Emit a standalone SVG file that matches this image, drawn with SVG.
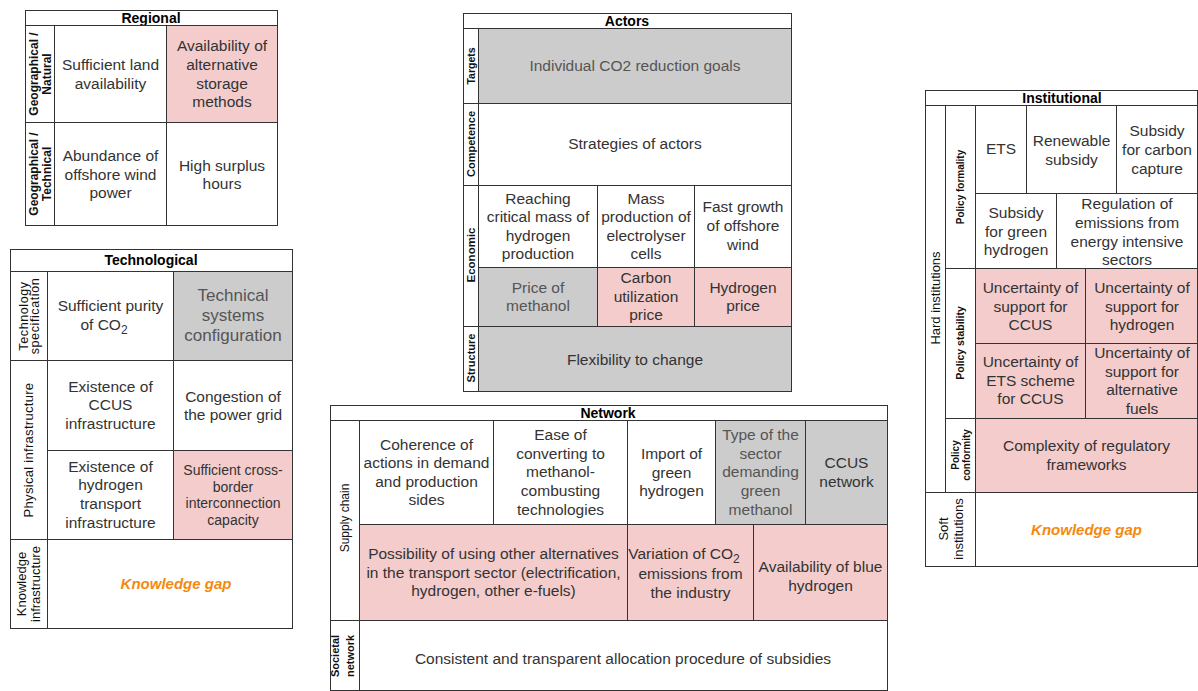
<svg xmlns="http://www.w3.org/2000/svg" width="1198" height="691" viewBox="0 0 1198 691">
<style>
text{font-family:"Liberation Sans",Arial,sans-serif;}
rect{stroke:#333;stroke-width:1;fill:#fff;}
rect.pk{fill:#f4cccc;}
rect.gy{fill:#cccccc;}
.c{font-size:15.5px;fill:#333;text-anchor:middle;}
.gt{fill:#555;}
.t{font-size:14px;font-weight:bold;fill:#000;text-anchor:middle;}
.lb{font-size:12px;font-weight:bold;fill:#111;text-anchor:middle;}
.lr{font-size:12.5px;fill:#111;text-anchor:middle;}
.ls{font-size:10.5px;font-weight:bold;fill:#111;text-anchor:middle;}
.kg{font-size:15px;font-weight:bold;font-style:italic;fill:#f5890f;text-anchor:middle;}
</style>
<rect x="0" y="0" width="1198" height="691" style="fill:#fff;stroke:none"/>

<g id="regional">
<rect x="25.5" y="10.5" width="252" height="15"/>
<text class="t" x="151" y="23">Regional</text>
<g id="reg-label-natural"><rect x="25.5" y="25.5" width="29" height="97"/>
<text class="lb" transform="translate(39.5,74) rotate(-90)"><tspan x="0" y="-2">Geographical /</tspan><tspan x="0" y="11">Natural</tspan></text></g>
<g id="reg-label-technical"><rect x="25.5" y="122.5" width="29" height="103"/>
<text class="lb" transform="translate(39.5,174) rotate(-90)"><tspan x="0" y="-2">Geographical /</tspan><tspan x="0" y="11">Technical</tspan></text></g>
<g id="reg-land"><rect x="54.5" y="25.5" width="112" height="97"/>
<text class="c"><tspan x="110.5" y="70">Sufficient land</tspan><tspan x="110.5" y="89">availability</tspan></text></g>
<g id="reg-storage"><rect class="pk" x="166.5" y="25.5" width="111" height="97"/>
<text class="c"><tspan x="222" y="51">Availability of</tspan><tspan x="222" y="70">alternative</tspan><tspan x="222" y="89">storage</tspan><tspan x="222" y="107">methods</tspan></text></g>
<g id="reg-wind"><rect x="54.5" y="122.5" width="112" height="103"/>
<text class="c"><tspan x="110.5" y="161">Abundance of</tspan><tspan x="110.5" y="180">offshore wind</tspan><tspan x="110.5" y="198">power</tspan></text></g>
<g id="reg-surplus"><rect x="166.5" y="122.5" width="111" height="103"/>
<text class="c"><tspan x="222" y="171">High surplus</tspan><tspan x="222" y="189">hours</tspan></text></g>
</g>

<g id="technological">
<rect x="10.5" y="249.5" width="282" height="22"/>
<text class="t" x="151" y="265">Technological</text>
<g id="tech-label-spec"><rect x="10.5" y="271.5" width="37" height="89"/>
<text class="lr" style="letter-spacing:0.6px" transform="translate(28.5,316) rotate(-90)"><tspan x="0" y="-1">Technology</tspan><tspan x="0" y="10">specification</tspan></text></g>
<g id="tech-label-phys"><rect x="10.5" y="360.5" width="37" height="179"/>
<text class="lr" style="font-size:13px;letter-spacing:0.3px" transform="translate(28.5,450) rotate(-90)"><tspan x="0" y="4.5">Physical infrastructure</tspan></text></g>
<g id="tech-label-know"><rect x="10.5" y="539.5" width="37" height="89"/>
<text class="lr" style="font-size:13px" transform="translate(28.5,584) rotate(-90)"><tspan x="0" y="-2.5">Knowledge</tspan><tspan x="0" y="11.5">infrastructure</tspan></text></g>
<g id="tech-purity"><rect x="47.5" y="271.5" width="126" height="89"/>
<text class="c"><tspan x="110.5" y="311">Sufficient purity</tspan><tspan x="104" y="330">of CO</tspan><tspan dy="4" style="font-size:12px">2</tspan></text></g>
<g id="tech-config"><rect class="gy" x="173.5" y="271.5" width="119" height="89"/>
<text class="c gt" style="font-size:17px"><tspan x="233" y="301">Technical</tspan><tspan x="233" y="321">systems</tspan><tspan x="233" y="341">configuration</tspan></text></g>
<g id="tech-ccus"><rect x="47.5" y="360.5" width="126" height="90"/>
<text class="c"><tspan x="110.5" y="392">Existence of</tspan><tspan x="110.5" y="410">CCUS</tspan><tspan x="110.5" y="429">infrastructure</tspan></text></g>
<g id="tech-grid"><rect x="173.5" y="360.5" width="119" height="90"/>
<text class="c"><tspan x="233" y="402">Congestion of</tspan><tspan x="233" y="420">the power grid</tspan></text></g>
<g id="tech-h2transport"><rect x="47.5" y="450.5" width="126" height="89"/>
<text class="c"><tspan x="110.5" y="472">Existence of</tspan><tspan x="110.5" y="490">hydrogen</tspan><tspan x="110.5" y="509">transport</tspan><tspan x="110.5" y="528">infrastructure</tspan></text></g>
<g id="tech-crossborder"><rect class="pk" x="173.5" y="450.5" width="119" height="89"/>
<text class="c" style="font-size:14px"><tspan x="233" y="475">Sufficient cross-</tspan><tspan x="233" y="491.5">border</tspan><tspan x="233" y="508">interconnection</tspan><tspan x="233" y="525">capacity</tspan></text></g>
<g id="tech-kgap"><rect x="47.5" y="539.5" width="245" height="89"/>
<text class="kg" x="176" y="589">Knowledge gap</text></g>
</g>

<g id="actors">
<rect x="463.5" y="13.5" width="328" height="15"/>
<text class="t" x="627" y="26">Actors</text>
<g id="act-label-targets"><rect x="463.5" y="28.5" width="15" height="75"/>
<text class="ls" transform="translate(471,66) rotate(-90)"><tspan x="0" y="4">Targets</tspan></text></g>
<g id="act-label-comp"><rect x="463.5" y="103.5" width="15" height="82"/>
<text class="ls" style="font-size:11px" transform="translate(471,144) rotate(-90)"><tspan x="0" y="4">Competence</tspan></text></g>
<g id="act-label-econ"><rect x="463.5" y="185.5" width="15" height="141"/>
<text class="ls" style="font-size:11.5px" transform="translate(471,255) rotate(-90)"><tspan x="0" y="4">Economic</tspan></text></g>
<g id="act-label-struct"><rect x="463.5" y="326.5" width="15" height="65"/>
<text class="ls" style="font-size:11px" transform="translate(471,358) rotate(-90)"><tspan x="0" y="4">Structure</tspan></text></g>
<g id="act-goals"><rect class="gy" x="478.5" y="28.5" width="313" height="75"/>
<text class="c gt" x="635" y="71">Individual CO2 reduction goals</text></g>
<g id="act-strategies"><rect x="478.5" y="103.5" width="313" height="82"/>
<text class="c" x="635" y="149">Strategies of actors</text></g>
<g id="act-criticalmass"><rect x="478.5" y="185.5" width="119" height="82"/>
<text class="c"><tspan x="538" y="204">Reaching</tspan><tspan x="538" y="222">critical mass of</tspan><tspan x="538" y="241">hydrogen</tspan><tspan x="538" y="259">production</tspan></text></g>
<g id="act-massprod"><rect x="597.5" y="185.5" width="97" height="82"/>
<text class="c"><tspan x="646" y="204">Mass</tspan><tspan x="646" y="222">production of</tspan><tspan x="646" y="241">electrolyser</tspan><tspan x="646" y="259">cells</tspan></text></g>
<g id="act-fastgrowth"><rect x="694.5" y="185.5" width="97" height="82"/>
<text class="c"><tspan x="743" y="212">Fast growth</tspan><tspan x="743" y="231">of offshore</tspan><tspan x="743" y="250">wind</tspan></text></g>
<g id="act-methanolprice"><rect class="gy" x="478.5" y="267.5" width="119" height="59"/>
<text class="c gt"><tspan x="538" y="293">Price of</tspan><tspan x="538" y="311">methanol</tspan></text></g>
<g id="act-carbonprice"><rect class="pk" x="597.5" y="267.5" width="97" height="59"/>
<text class="c"><tspan x="646" y="283">Carbon</tspan><tspan x="646" y="302">utilization</tspan><tspan x="646" y="320">price</tspan></text></g>
<g id="act-h2price"><rect class="pk" x="694.5" y="267.5" width="97" height="59"/>
<text class="c"><tspan x="743" y="293">Hydrogen</tspan><tspan x="743" y="311">price</tspan></text></g>
<g id="act-flex"><rect class="gy" x="478.5" y="326.5" width="313" height="65"/>
<text class="c" x="635" y="365">Flexibility to change</text></g>
</g>

<g id="network">
<rect x="330.5" y="405.5" width="557" height="15"/>
<text class="t" x="608" y="418">Network</text>
<g id="net-label-supply"><rect x="330.5" y="420.5" width="29" height="200"/>
<text class="lr" style="font-size:12px" transform="translate(345,518) rotate(-90)"><tspan x="0" y="4">Supply chain</tspan></text></g>
<g id="net-label-societal"><rect x="330.5" y="620.5" width="29" height="70"/>
<text class="ls" style="font-size:11px" transform="translate(342.5,656) rotate(-90)"><tspan x="0" y="-3.5">Societal</tspan><tspan x="0" y="11.5">network</tspan></text></g>
<g id="net-coherence"><rect x="359.5" y="420.5" width="134" height="104"/>
<text class="c"><tspan x="426.5" y="450">Coherence of</tspan><tspan x="426.5" y="468">actions in demand</tspan><tspan x="426.5" y="487">and production</tspan><tspan x="426.5" y="505">sides</tspan></text></g>
<g id="net-ease"><rect x="493.5" y="420.5" width="134" height="104"/>
<text class="c"><tspan x="560.5" y="440">Ease of</tspan><tspan x="560.5" y="459">converting to</tspan><tspan x="560.5" y="477">methanol-</tspan><tspan x="560.5" y="496">combusting</tspan><tspan x="560.5" y="515">technologies</tspan></text></g>
<g id="net-import"><rect x="627.5" y="420.5" width="88" height="104"/>
<text class="c"><tspan x="671.5" y="459">Import of</tspan><tspan x="671.5" y="478">green</tspan><tspan x="671.5" y="496">hydrogen</tspan></text></g>
<g id="net-sectortype"><rect class="gy" x="715.5" y="420.5" width="90" height="104"/>
<text class="c gt"><tspan x="760.5" y="440">Type of the</tspan><tspan x="760.5" y="459">sector</tspan><tspan x="760.5" y="477">demanding</tspan><tspan x="760.5" y="496">green</tspan><tspan x="760.5" y="515">methanol</tspan></text></g>
<g id="net-ccus"><rect class="gy" x="805.5" y="420.5" width="82" height="104"/>
<text class="c"><tspan x="846.5" y="468">CCUS</tspan><tspan x="846.5" y="487">network</tspan></text></g>
<g id="net-alternatives"><rect class="pk" x="359.5" y="524.5" width="268" height="96"/>
<text class="c"><tspan x="493.5" y="559">Possibility of using other alternatives</tspan><tspan x="493.5" y="578">in the transport sector (electrification,</tspan><tspan x="493.5" y="596">hydrogen, other e-fuels)</tspan></text></g>
<g id="net-co2variation"><rect class="pk" x="627.5" y="524.5" width="126" height="96"/>
<text class="c"><tspan x="684" y="559">Variation of CO</tspan><tspan dy="4" style="font-size:12px">2</tspan><tspan x="690.5" y="579">emissions from</tspan><tspan x="690.5" y="598">the industry</tspan></text></g>
<g id="net-bluehydrogen"><rect class="pk" x="753.5" y="524.5" width="134" height="96"/>
<text class="c"><tspan x="820.5" y="572">Availability of blue</tspan><tspan x="820.5" y="591">hydrogen</tspan></text></g>
<g id="net-subsidies"><rect x="359.5" y="620.5" width="528" height="70"/>
<text class="c" x="623" y="664">Consistent and transparent allocation procedure of subsidies</text></g>
</g>

<g id="institutional">
<rect x="925.5" y="90.5" width="272" height="15"/>
<text class="t" x="1062" y="103">Institutional</text>
<g id="inst-label-hard"><rect x="925.5" y="105.5" width="20" height="387"/>
<text class="lr" style="font-size:13px" transform="translate(935.5,298) rotate(-90)"><tspan x="0" y="4.5">Hard institutions</tspan></text></g>
<g id="inst-label-formality"><rect x="945.5" y="105.5" width="30" height="163"/>
<text class="ls" style="font-size:10px" transform="translate(960.5,187) rotate(-90)"><tspan x="0" y="3.5">Policy formality</tspan></text></g>
<g id="inst-label-stability"><rect x="945.5" y="268.5" width="30" height="150"/>
<text class="ls" transform="translate(960.5,343) rotate(-90)"><tspan x="0" y="3.5">Policy stability</tspan></text></g>
<g id="inst-label-conformity"><rect x="945.5" y="418.5" width="30" height="74"/>
<text class="ls" style="font-size:10px" transform="translate(960.5,455) rotate(-90)"><tspan x="0" y="-2">Policy</tspan><tspan x="0" y="9">conformity</tspan></text></g>
<g id="inst-label-soft"><rect x="925.5" y="492.5" width="50" height="74"/>
<text class="lr" style="font-size:13px" transform="translate(951,529) rotate(-90)"><tspan x="0" y="-3">Soft</tspan><tspan x="0" y="12">institutions</tspan></text></g>
<g id="inst-ets"><rect x="975.5" y="105.5" width="51" height="88"/>
<text class="c" x="1001" y="154">ETS</text></g>
<g id="inst-renewable"><rect x="1026.5" y="105.5" width="90" height="88"/>
<text class="c"><tspan x="1071.5" y="146">Renewable</tspan><tspan x="1071.5" y="165">subsidy</tspan></text></g>
<g id="inst-carboncapture"><rect x="1116.5" y="105.5" width="81" height="88"/>
<text class="c"><tspan x="1157" y="136">Subsidy</tspan><tspan x="1157" y="155">for carbon</tspan><tspan x="1157" y="174">capture</tspan></text></g>
<g id="inst-greenh2"><rect x="975.5" y="193.5" width="81" height="75"/>
<text class="c"><tspan x="1016" y="218">Subsidy</tspan><tspan x="1016" y="237">for green</tspan><tspan x="1016" y="255">hydrogen</tspan></text></g>
<g id="inst-regulation"><rect x="1056.5" y="193.5" width="141" height="75"/>
<text class="c"><tspan x="1127" y="209">Regulation of</tspan><tspan x="1127" y="228">emissions from</tspan><tspan x="1127" y="247">energy intensive</tspan><tspan x="1127" y="265">sectors</tspan></text></g>
<g id="inst-unc-ccus"><rect class="pk" x="975.5" y="268.5" width="110" height="75"/>
<text class="c"><tspan x="1030.5" y="293">Uncertainty of</tspan><tspan x="1030.5" y="312">support for</tspan><tspan x="1030.5" y="330">CCUS</tspan></text></g>
<g id="inst-unc-h2"><rect class="pk" x="1085.5" y="268.5" width="112" height="75"/>
<text class="c"><tspan x="1142" y="293">Uncertainty of</tspan><tspan x="1142" y="312">support for</tspan><tspan x="1142" y="330">hydrogen</tspan></text></g>
<g id="inst-unc-ets"><rect class="pk" x="975.5" y="343.5" width="110" height="75"/>
<text class="c"><tspan x="1030.5" y="367">Uncertainty of</tspan><tspan x="1030.5" y="386">ETS scheme</tspan><tspan x="1030.5" y="404">for CCUS</tspan></text></g>
<g id="inst-unc-alt"><rect class="pk" x="1085.5" y="343.5" width="112" height="75"/>
<text class="c"><tspan x="1142" y="358">Uncertainty of</tspan><tspan x="1142" y="377">support for</tspan><tspan x="1142" y="395">alternative</tspan><tspan x="1142" y="414">fuels</tspan></text></g>
<g id="inst-complexity"><rect class="pk" x="975.5" y="418.5" width="222" height="74"/>
<text class="c"><tspan x="1086.5" y="451">Complexity of regulatory</tspan><tspan x="1086.5" y="470">frameworks</tspan></text></g>
<g id="inst-kgap"><rect x="975.5" y="492.5" width="222" height="74"/>
<text class="kg" x="1086.5" y="535">Knowledge gap</text></g>
</g>
</svg>
